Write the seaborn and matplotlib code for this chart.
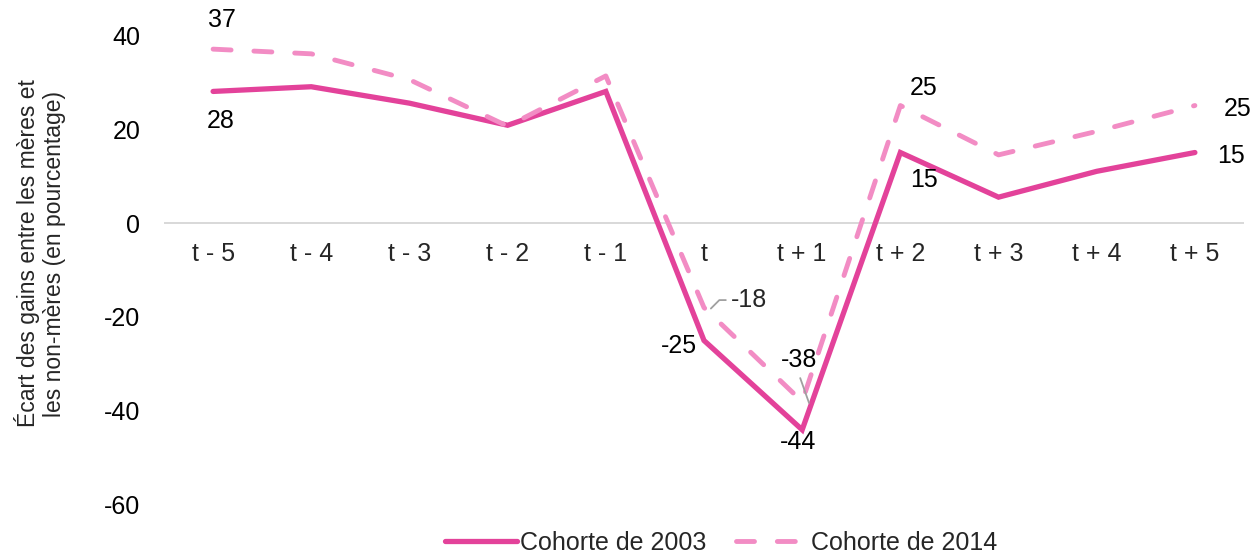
import matplotlib
matplotlib.use("Agg")
import matplotlib.pyplot as plt
import seaborn as sns
import pandas as pd
from matplotlib.lines import Line2D

periodes = ["t - 5", "t - 4", "t - 3", "t - 2", "t - 1", "t",
            "t + 1", "t + 2", "t + 3", "t + 4", "t + 5"]
cohorte_2003 = [28, 29, 25.5, 20.8, 28, -25, -44, 15, 5.5, 11, 15]
cohorte_2014 = [37, 36, 30.5, 20.6, 31.3, -18, -38, 25, 14.5, 19.5, 25]
noms = ["Cohorte de 2003", "Cohorte de 2014"]
couleurs = {"Cohorte de 2003": "#E3429A", "Cohorte de 2014": "#F28CC4"}

df = pd.concat([
    pd.DataFrame({"periode": periodes, "ecart": cohorte_2003, "cohorte": noms[0]}),
    pd.DataFrame({"periode": periodes, "ecart": cohorte_2014, "cohorte": noms[1]}),
], ignore_index=True)

FS = 18
LW_PLEIN = 3.8
LW_TIRET = 3.5
DASH = (3.7, 4.7)

sns.set_theme(style="white")
plt.rcParams["font.family"] = ["Liberation Sans", "DejaVu Sans"]
plt.rcParams["font.size"] = FS

fig = plt.figure(figsize=(12.52, 5.57), dpi=100)
ax = fig.add_axes([0.131, 0.0934, 0.8626, 0.8437])

sns.lineplot(data=df, x="periode", y="ecart", hue="cohorte", style="cohorte",
             palette=couleurs, dashes={noms[0]: "", noms[1]: DASH},
             sort=False, legend=False, ax=ax)
ax.lines[0].set_linewidth(LW_PLEIN)
ax.lines[1].set_linewidth(LW_TIRET)
for ln in ax.lines:
    ln.set_dash_capstyle("round")
    ln.set_solid_joinstyle("miter")

ax.set_xlim(-0.5, len(periodes) - 0.5)
ax.set_ylim(-60, 40)
ax.set_yticks([-60, -40, -20, 0, 20, 40])
ax.set_yticklabels(["-60", "-40", "-20", "0", "20", "40"])
ax.axhline(0, color="#d6d6d6", lw=1.3, zorder=0)
for s in ax.spines.values():
    s.set_visible(False)
ax.tick_params(axis="both", length=0, labelsize=FS, colors="black")
ax.tick_params(axis="y", pad=17)
ax.set_xlabel("")
ax.set_ylabel("Écart des gains entre les mères et\nles non-mères (en pourcentage)",
              fontsize=16.5, linespacing=1.15)
ax.yaxis.set_label_coords(-0.091, 0.535)

# x labels sit just under the zero line
ax.set_xticks(range(len(periodes)))
ax.set_xticklabels([])
for i, p in enumerate(periodes):
    ax.text(i, -6.6, p, ha="center", va="center", fontsize=FS)

# data labels
kw = dict(fontsize=FS, color="black")
ax.text(0.09, cohorte_2014[0] + 6.2, f"{cohorte_2014[0]:.0f}", ha="center", va="center", clip_on=False, **kw)
ax.text(0.08, cohorte_2003[0] - 6.3, f"{cohorte_2003[0]:.0f}", ha="center", va="center", **kw)
ax.text(7.24, cohorte_2014[7] + 3.7, f"{cohorte_2014[7]:.0f}", ha="center", va="center", **kw)
ax.text(7.24, cohorte_2003[7] - 5.9, f"{cohorte_2003[7]:.0f}", ha="center", va="center", **kw)
ax.text(10.29, cohorte_2014[10] - 0.8, f"{cohorte_2014[10]:.0f}", ha="left", va="center", **kw)
ax.text(10.23, cohorte_2003[10] - 0.8, f"{cohorte_2003[10]:.0f}", ha="left", va="center", **kw)
ax.text(4.93, cohorte_2003[5] - 1.2, f"{cohorte_2003[5]:.0f}", ha="right", va="center", **kw)
ax.text(5.96, cohorte_2003[6] - 2.6, f"{cohorte_2003[6]:.0f}", ha="center", va="center", **kw)
ax.annotate(f"{cohorte_2014[5]:.0f}", xy=(5.07, cohorte_2014[5] - 0.2), xytext=(5.27, cohorte_2014[5] + 1.6),
            ha="left", va="center", fontsize=FS,
            arrowprops=dict(arrowstyle="-", color="#a0a0a0", lw=1.3,
                            connectionstyle="angle,angleA=0,angleB=45,rad=0",
                            shrinkA=1, shrinkB=0))
ax.text(5.97, cohorte_2014[6] + 8.8, f"{cohorte_2014[6]:.0f}", ha="center", va="center", **kw)
ax.annotate("", xy=(6.07, cohorte_2014[6] - 0.3), xytext=(5.98, cohorte_2014[6] + 5.0),
            arrowprops=dict(arrowstyle="-", color="#a0a0a0", lw=1.3, shrinkA=0, shrinkB=0))

handles = [Line2D([], [], color=couleurs[noms[0]], lw=LW_PLEIN),
           Line2D([], [], color=couleurs[noms[1]], lw=LW_TIRET, dashes=DASH, dash_capstyle="round")]
fig.legend(handles, noms, loc="lower center", bbox_to_anchor=(0.576, -0.036), ncol=2,
           frameon=False, fontsize=FS, handlelength=2.9, handletextpad=0.1, columnspacing=1.2)

fig.savefig("out.png", dpi=100)
